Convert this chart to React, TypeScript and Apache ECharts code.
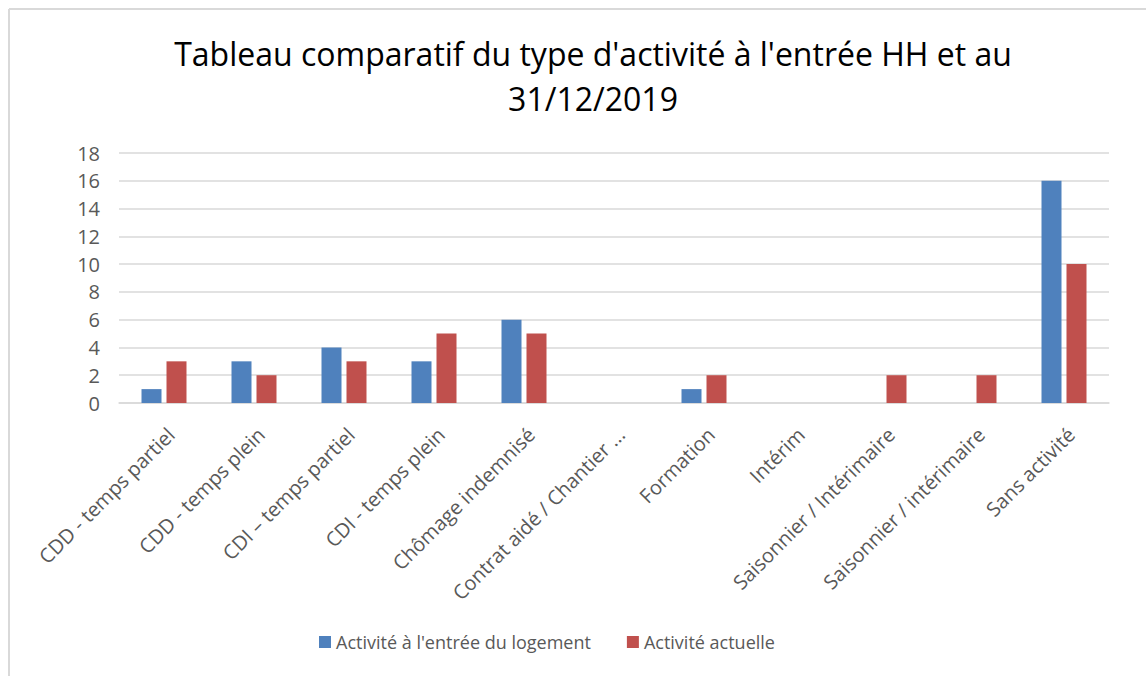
import React, { useEffect, useRef } from "react";
import * as echarts from "echarts";

const titleText = "Tableau comparatif du type d'activité à l'entrée HH et au\n31/12/2019";
const categories = [
  "CDD - temps partiel",
  "CDD - temps plein",
  "CDI – temps partiel",
  "CDI - temps plein",
  "Chômage indemnisé",
  "Contrat aidé / Chantier ...",
  "Formation",
  "Intérim",
  "Saisonnier / Intérimaire",
  "Saisonnier / intérimaire",
  "Sans activité",
];
const seriesNames = ["Activité à l'entrée du logement", "Activité actuelle"];
const entreeValues = [1, 3, 4, 3, 6, 0, 1, 0, 0, 0, 16];
const actuelleValues = [3, 2, 3, 5, 5, 0, 2, 0, 2, 2, 10];
const yMin = 0;
const yMax = 18;
const yInterval = 2;

const FONT = "'Open Sans', 'Noto Sans', sans-serif";

export default function App() {
  const ref = useRef<HTMLDivElement>(null);
  useEffect(() => {
    if (!ref.current) return;
    const chart = echarts.init(ref.current, undefined, { renderer: "svg" });
    chart.setOption({
      animation: false,
      backgroundColor: "#ffffff",
      textStyle: { fontFamily: FONT },
      title: {
        text: titleText,
        left: 588,
        textAlign: "center",
        top: 26,
        textStyle: {
          fontFamily: FONT,
          fontSize: 32,
          fontWeight: "normal",
          color: "#000000",
          lineHeight: 45,
        },
      },
      graphic: [
        {
          type: "line",
          shape: { x1: 9, y1: 9, x2: 1146, y2: 9 },
          style: { stroke: "#d9d9d9", lineWidth: 2 },
        },
        {
          type: "line",
          shape: { x1: 9, y1: 9, x2: 9, y2: 676 },
          style: { stroke: "#d9d9d9", lineWidth: 2 },
        },
      ],
      legend: {
        top: 628,
        left: 314,
        itemWidth: 12,
        itemHeight: 12,
        itemGap: 36,
        icon: "rect",
        textStyle: { fontFamily: FONT, fontSize: 18, color: "#595959" },
        data: seriesNames,
      },
      grid: { left: 119, right: 37, top: 153, bottom: 273 },
      xAxis: {
        type: "category",
        data: categories,
        axisLine: { lineStyle: { color: "#d9d9d9", width: 1.5 } },
        axisTick: { show: false },
        axisLabel: {
          rotate: 45,
          interval: 0,
          margin: 21,
          verticalAlign: "top",
          fontFamily: FONT,
          fontSize: 20,
          color: "#595959",
        },
      },
      yAxis: {
        type: "value",
        min: yMin,
        max: yMax,
        interval: yInterval,
        axisLine: { show: false },
        axisTick: { show: false },
        axisLabel: { margin: 19, fontFamily: FONT, fontSize: 20, color: "#595959" },
        splitLine: { lineStyle: { color: "#d9d9d9", width: 1.5 } },
      },
      series: [
        {
          name: seriesNames[0],
          type: "bar",
          data: entreeValues,
          barWidth: 20,
          barGap: "25%",
          itemStyle: { color: "#4F81BD" },
        },
        {
          name: seriesNames[1],
          type: "bar",
          data: actuelleValues,
          barWidth: 20,
          barGap: "25%",
          itemStyle: { color: "#C0504D" },
        },
      ],
    });
    return () => chart.dispose();
  }, []);
  return (
    <div
      ref={ref}
      style={{ position: "absolute", left: 0, top: 0, width: 1146, height: 676 }}
    />
  );
}
